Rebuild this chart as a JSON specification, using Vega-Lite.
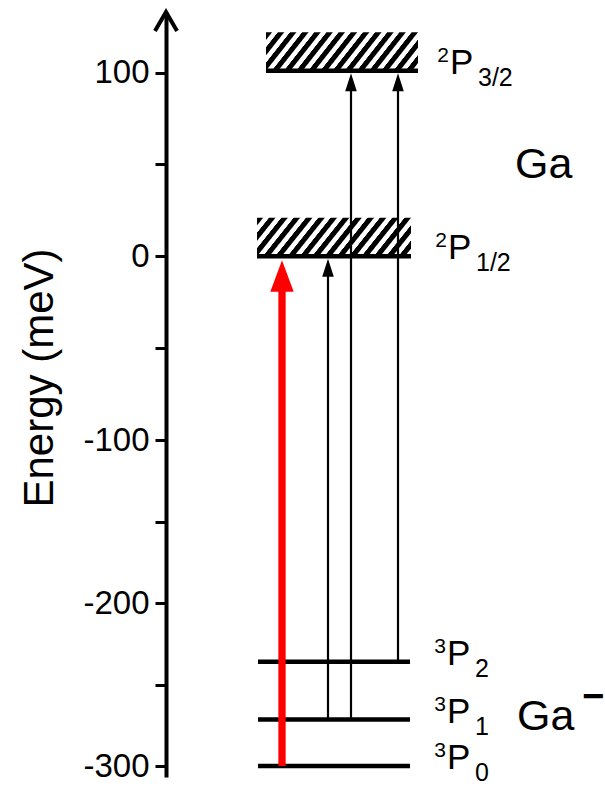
{
  "$schema": "https://vega.github.io/schema/vega-lite/v6.json",
  "width": 439,
  "height": 765,
  "autosize": "none",
  "padding": {"left": 166, "top": 12, "right": 0, "bottom": 12},
  "background": "white",
  "config": {"view": {"stroke": null}, "font": "Liberation Sans"},
  "datasets": {
    "boxes": [
      {"term": "2P3/2", "x": 100, "x2": 252, "e": 101, "e2": 122},
      {"term": "2P1/2", "x": 91, "x2": 245, "e": 0, "e2": 21}
    ],
    "levels": [
      {"term": "2P3/2", "x": 100, "x2": 252, "e": 101, "lx": 284, "sup": "2", "main": "P", "sub": "3/2"},
      {"term": "2P1/2", "x": 91, "x2": 245, "e": 0, "lx": 282, "sup": "2", "main": "P", "sub": "1/2"},
      {"term": "3P2", "x": 92, "x2": 244, "e": -236, "lx": 281, "sup": "3", "main": "P", "sub": "2"},
      {"term": "3P1", "x": 92, "x2": 244, "e": -271.5, "lx": 281, "sup": "3", "main": "P", "sub": "1"},
      {"term": "3P0", "x": 92, "x2": 244, "e": -300, "lx": 281, "sup": "3", "main": "P", "sub": "0"}
    ],
    "transitions": [
      {"kind": "laser", "x": 116, "e": -300, "e2": 0},
      {"kind": "line", "x": 162, "e": -271.5, "e2": 0},
      {"kind": "line", "x": 185, "e": -271.5, "e2": 101},
      {"kind": "line", "x": 232, "e": -236, "e2": 101}
    ],
    "species": [
      {"t": "Ga", "x": 349, "e": 42.8, "charge": ""},
      {"t": "Ga", "x": 351, "e": -278, "charge": "−"}
    ],
    "axisTip": [{"x": 0, "e": 133}]
  },
  "encoding": {
    "x": {"field": "x", "type": "quantitative", "scale": {"domain": [0, 439], "zero": false, "nice": false}, "axis": null},
    "y": {
      "field": "e", "type": "quantitative",
      "scale": {"domain": [-306.7, -100, 133], "range": [765, 428, 0], "zero": false, "nice": false},
      "axis": {
        "values": [-300, -250, -200, -150, -100, -50, 0, 50, 100],
        "labelExpr": "datum.value % 100 === 0 ? '' + datum.value : ''",
        "title": "Energy (meV)",
        "titleFont": "Liberation Sans", "titleFontSize": 42, "titleFontWeight": "normal", "titleColor": "black",
        "titleAngle": 270, "titleAlign": "center", "titleBaseline": "alphabetic",
        "titleX": -114, "titleY": 365.5,
        "labelFont": "Liberation Sans", "labelFontSize": 33, "labelColor": "black", "labelPadding": 6,
        "tickSize": 11, "tickWidth": 3, "tickColor": "black",
        "domainColor": "black", "domainWidth": 4,
        "grid": false
      }
    }
  },
  "layer": [
    {
      "data": {"name": "boxes"},
      "mark": {
        "type": "rect", "stroke": null,
        "fill": {
          "gradient": "linear", "x1": 0, "y1": 0, "x2": 1.154, "y2": 0.231,
          "stops": [
            {"offset": 0, "color": "black"}, {"offset": 0.03, "color": "black"}, {"offset": 0.0367, "color": "white"}, {"offset": 0.0633, "color": "white"},
            {"offset": 0.0667, "color": "black"}, {"offset": 0.0967, "color": "black"}, {"offset": 0.1033, "color": "white"}, {"offset": 0.13, "color": "white"},
            {"offset": 0.1333, "color": "black"}, {"offset": 0.1633, "color": "black"}, {"offset": 0.17, "color": "white"}, {"offset": 0.1967, "color": "white"},
            {"offset": 0.2, "color": "black"}, {"offset": 0.23, "color": "black"}, {"offset": 0.2367, "color": "white"}, {"offset": 0.2633, "color": "white"},
            {"offset": 0.2667, "color": "black"}, {"offset": 0.2967, "color": "black"}, {"offset": 0.3033, "color": "white"}, {"offset": 0.33, "color": "white"},
            {"offset": 0.3333, "color": "black"}, {"offset": 0.3633, "color": "black"}, {"offset": 0.37, "color": "white"}, {"offset": 0.3967, "color": "white"},
            {"offset": 0.4, "color": "black"}, {"offset": 0.43, "color": "black"}, {"offset": 0.4367, "color": "white"}, {"offset": 0.4633, "color": "white"},
            {"offset": 0.4667, "color": "black"}, {"offset": 0.4967, "color": "black"}, {"offset": 0.5033, "color": "white"}, {"offset": 0.53, "color": "white"},
            {"offset": 0.5333, "color": "black"}, {"offset": 0.5633, "color": "black"}, {"offset": 0.57, "color": "white"}, {"offset": 0.5967, "color": "white"},
            {"offset": 0.6, "color": "black"}, {"offset": 0.63, "color": "black"}, {"offset": 0.6367, "color": "white"}, {"offset": 0.6633, "color": "white"},
            {"offset": 0.6667, "color": "black"}, {"offset": 0.6967, "color": "black"}, {"offset": 0.7033, "color": "white"}, {"offset": 0.73, "color": "white"},
            {"offset": 0.7333, "color": "black"}, {"offset": 0.7633, "color": "black"}, {"offset": 0.77, "color": "white"}, {"offset": 0.7967, "color": "white"},
            {"offset": 0.8, "color": "black"}, {"offset": 0.83, "color": "black"}, {"offset": 0.8367, "color": "white"}, {"offset": 0.8633, "color": "white"},
            {"offset": 0.8667, "color": "black"}, {"offset": 0.8967, "color": "black"}, {"offset": 0.9033, "color": "white"}, {"offset": 0.93, "color": "white"},
            {"offset": 0.9333, "color": "black"}, {"offset": 0.9633, "color": "black"}, {"offset": 0.97, "color": "white"}, {"offset": 0.9967, "color": "white"},
            {"offset": 1, "color": "black"}
          ]
        }
      },
      "encoding": {
        "x2": {"field": "x2"},
        "y2": {"field": "e2"}
      }
    },
    {
      "data": {"name": "levels"},
      "mark": {"type": "rule", "color": "black", "strokeWidth": 4.5, "strokeCap": "butt"},
      "encoding": {"x2": {"field": "x2"}}
    },
    {
      "data": {"name": "transitions"},
      "transform": [{"filter": "datum.kind === 'line'"}],
      "mark": {"type": "rule", "color": "black", "strokeWidth": 2.2, "y2Offset": 10},
      "encoding": {"y2": {"field": "e2"}}
    },
    {
      "data": {"name": "transitions"},
      "transform": [{"filter": "datum.kind === 'line'"}],
      "mark": {"type": "point", "filled": true, "color": "black", "opacity": 1, "size": 400, "shape": "M0,0L-0.58,1.8L0.58,1.8Z", "yOffset": 2.5, "strokeWidth": 0},
      "encoding": {"y": {"field": "e2", "type": "quantitative", "title": "Energy (meV)"}}
    },
    {
      "data": {"name": "transitions"},
      "transform": [{"filter": "datum.kind === 'laser'"}],
      "mark": {"type": "rule", "color": "#ff0000", "strokeWidth": 7.3, "y2Offset": 22},
      "encoding": {"y2": {"field": "e2"}}
    },
    {
      "data": {"name": "transitions"},
      "transform": [{"filter": "datum.kind === 'laser'"}],
      "mark": {"type": "point", "filled": true, "color": "#ff0000", "opacity": 1, "size": 400, "shape": "M0,0L-1.17,3.15L1.17,3.15Z", "yOffset": 4, "strokeWidth": 0},
      "encoding": {"y": {"field": "e2", "type": "quantitative", "title": "Energy (meV)"}}
    },
    {
      "data": {"name": "levels"},
      "mark": {"type": "text", "font": "Liberation Sans", "fontSize": 35, "color": "black", "align": "left", "baseline": "alphabetic", "dy": 3},
      "encoding": {"x": {"field": "lx", "type": "quantitative"}, "text": {"field": "main"}}
    },
    {
      "data": {"name": "levels"},
      "mark": {"type": "text", "font": "Liberation Sans", "fontSize": 21, "color": "black", "align": "right", "baseline": "alphabetic", "dx": -1, "dy": -9},
      "encoding": {"x": {"field": "lx", "type": "quantitative"}, "text": {"field": "sup"}}
    },
    {
      "data": {"name": "levels"},
      "mark": {"type": "text", "font": "Liberation Sans", "fontSize": 25, "color": "black", "align": "left", "baseline": "alphabetic", "dx": 28, "dy": 15},
      "encoding": {"x": {"field": "lx", "type": "quantitative"}, "text": {"field": "sub"}}
    },
    {
      "data": {"name": "species"},
      "mark": {"type": "text", "font": "Liberation Sans", "fontSize": 43, "color": "black", "align": "left", "baseline": "alphabetic"},
      "encoding": {"text": {"field": "t"}}
    },
    {
      "data": {"name": "species"},
      "mark": {"type": "text", "font": "Liberation Sans", "fontSize": 38, "fontWeight": "bold", "color": "black", "align": "center", "baseline": "alphabetic", "dx": 76, "dy": -21},
      "encoding": {"text": {"field": "charge"}}
    },
    {
      "data": {"name": "axisTip"},
      "mark": {"type": "point", "filled": false, "color": "black", "opacity": 1, "size": 1444, "shape": "M-0.58,1L0,0L0.58,1", "strokeWidth": 4, "strokeJoin": "miter"}
    }
  ]
}
